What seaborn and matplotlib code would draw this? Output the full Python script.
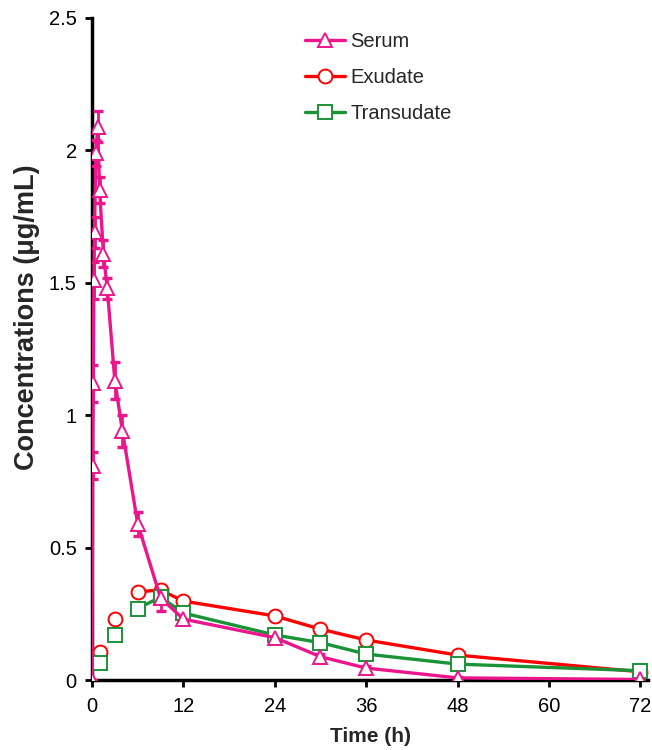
import numpy as np
import pandas as pd
import matplotlib
matplotlib.use("Agg")
import matplotlib.pyplot as plt
from matplotlib.lines import Line2D
from matplotlib.ticker import FuncFormatter
import seaborn as sns

# ---- data ----
serum_t = [0, 0.083, 0.167, 0.25, 0.33, 0.5, 0.75, 1, 1.5, 2, 3, 4, 6, 9, 12, 24, 30, 36, 48, 72]
serum_c = [0, 0.81, 1.12, 1.51, 1.69, 1.99, 2.09, 1.85, 1.61, 1.48, 1.13, 0.94, 0.59, 0.31, 0.23, 0.16, 0.088, 0.045, 0.008, 0.002]
serum_sd = [0, 0.05, 0.07, 0.07, 0.06, 0.05, 0.06, 0.05, 0.05, 0.04, 0.07, 0.06, 0.045, 0.05, 0.015, 0.012, 0.01, 0.008, 0.004, 0.002]

exu_t = [1, 3, 6, 9, 12, 24, 30, 36, 48, 72]
exu_c = [0.106, 0.23, 0.333, 0.34, 0.298, 0.242, 0.192, 0.151, 0.094, 0.031]

tra_t = [1, 3, 6, 9, 12, 24, 30, 36, 48, 72]
tra_c = [0.064, 0.17, 0.27, 0.313, 0.253, 0.17, 0.141, 0.098, 0.06, 0.035]

x_ticks = [0, 12, 24, 36, 48, 60, 72]
y_ticks = [0, 0.5, 1, 1.5, 2, 2.5]

PINK = "#EC168C"
RED = "#FF0000"
GREEN = "#1A9338"

sns.set_style("ticks")
plt.rcParams['font.family'] = ['Liberation Sans', 'DejaVu Sans']

fig = plt.figure(figsize=(6.52, 7.5), dpi=100)
ax = fig.add_axes([92 / 652, 70 / 750, 556 / 652, 662 / 750])

serum = pd.DataFrame({"t": serum_t, "c": serum_c})
exu = pd.DataFrame({"t": exu_t, "c": exu_c})
tra = pd.DataFrame({"t": tra_t, "c": tra_c})

lw = 2.4
# error bars for serum
ax.errorbar(serum_t, serum_c, yerr=serum_sd, fmt='none', ecolor=PINK,
            elinewidth=2.0, capsize=3.8, capthick=2.4, zorder=3)

# exudate: unconnected early points + connected rest
ex_line = exu[exu.t >= 6]
ex_pts = exu[exu.t < 6]
sns.lineplot(data=ex_line, x="t", y="c", ax=ax, color=RED, lw=lw, marker="o",
             markersize=10, markerfacecolor="white", markeredgecolor=RED,
             markeredgewidth=1.4, zorder=4)
ax.plot(ex_pts.t, ex_pts.c, ls="none", marker="o", markersize=10,
        markerfacecolor="white", markeredgecolor=RED, markeredgewidth=1.4, zorder=4)

tr_line = tra[tra.t >= 6]
tr_pts = tra[tra.t < 6]
sns.lineplot(data=tr_line, x="t", y="c", ax=ax, color=GREEN, lw=lw, marker="s",
             markersize=9.5, markerfacecolor="white", markeredgecolor=GREEN,
             markeredgewidth=1.4, zorder=5)
ax.plot(tr_pts.t, tr_pts.c, ls="none", marker="s", markersize=9.5,
        markerfacecolor="white", markeredgecolor=GREEN, markeredgewidth=1.4, zorder=5)

sns.lineplot(data=serum, x="t", y="c", ax=ax, color=PINK, lw=lw, marker="^",
             markersize=10.5, markerfacecolor="white", markeredgecolor=PINK,
             markeredgewidth=1.4, zorder=6)

ax.set_xlim(0, 73)
ax.set_ylim(0, 2.5)
ax.set_xticks(x_ticks)
ax.set_yticks(y_ticks)
ax.yaxis.set_major_formatter(FuncFormatter(lambda v, p: f"{v:g}"))
ax.tick_params(axis="both", direction="out", length=5, width=2, labelsize=14.5, colors="black", pad=6)
ax.tick_params(axis="x", pad=7)
for s in ["top", "right"]:
    ax.spines[s].set_visible(False)
for s in ["left", "bottom"]:
    ax.spines[s].set_linewidth(2.5)
    ax.spines[s].set_color("black")
ax.spines["left"].set_zorder(2)

ax.set_xlabel("Time (h)", fontsize=15, fontweight="bold", labelpad=8)
ax.set_ylabel("Concentrations (μg/mL)", fontsize=19.5, fontweight="bold")
ax.yaxis.set_label_coords((40 - 92) / 556, (680 - 317) / 662)

handles = [
    Line2D([], [], color=PINK, lw=lw, marker="^", markersize=10.5, markerfacecolor="white", markeredgewidth=1.4),
    Line2D([], [], color=RED, lw=lw, marker="o", markersize=10, markerfacecolor="white", markeredgewidth=1.4),
    Line2D([], [], color=GREEN, lw=lw, marker="s", markersize=9.5, markerfacecolor="white", markeredgewidth=1.4),
]
ax.legend(handles, ["Serum", "Exudate", "Transudate"], loc="upper left",
          bbox_to_anchor=(205 / 556, 1.0 - 6 / 662), frameon=False, fontsize=14.5,
          handlelength=2.0, handletextpad=0.25, labelspacing=0.85, borderaxespad=0)

fig.savefig("out.png", dpi=100)
